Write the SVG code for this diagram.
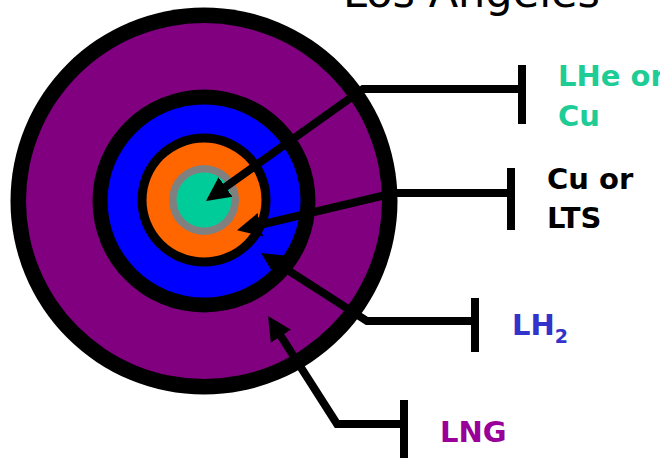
<svg xmlns="http://www.w3.org/2000/svg" width="660" height="458" viewBox="0 0 660 458">
  <style>
    .lbl { font-family: "DejaVu Sans", "Liberation Sans", sans-serif; font-weight: bold; font-size: 29px; }
    .title { font-family: "DejaVu Sans", "Liberation Sans", sans-serif; font-size: 42px; fill: #000; }
    .wire { fill: none; stroke: #000; stroke-width: 8; stroke-linejoin: miter; }
    .bar { stroke: #000; stroke-width: 8; }
  </style>
  <defs>
    <marker id="head" markerUnits="userSpaceOnUse" markerWidth="26" markerHeight="26"
            viewBox="0 -13 26 26" refX="1" refY="0" orient="auto">
      <path d="M0,-12 L24,0 L0,12 Z" fill="#000"/>
    </marker>
  </defs>

  <rect width="660" height="458" fill="#fff"/>

  <!-- title, running off the top edge -->
  <text class="title" x="343" y="7" textLength="257" lengthAdjust="spacingAndGlyphs">Los Angeles</text>

  <!-- concentric cable layers -->
  <g id="layer-lng">
    <circle cx="204" cy="201" r="193.5" fill="#000"/>
    <circle cx="204" cy="201" r="178" fill="#800080"/>
  </g>
  <g id="layer-lh2">
    <circle cx="204" cy="201" r="111.5" fill="#000"/>
    <circle cx="204" cy="201" r="96.5" fill="#0000FF"/>
  </g>
  <g id="layer-lts">
    <circle cx="204" cy="200" r="66.5" fill="#000"/>
    <circle cx="204" cy="200" r="57.5" fill="#FF6600"/>
  </g>
  <g id="layer-core">
    <circle cx="204" cy="200" r="35" fill="#808080"/>
    <circle cx="204" cy="200" r="27.5" fill="#00CC99"/>
  </g>

  <!-- leader lines -->
  <g id="connectors">
    <line class="bar" x1="522" y1="65" x2="522" y2="124"/>
    <path class="wire" d="M522,89 H363 L224.7,187.6" marker-end="url(#head)"/>

    <line class="bar" x1="511" y1="168" x2="511" y2="230"/>
    <path class="wire" d="M511,193 H394 L259.4,225" marker-end="url(#head)"/>

    <line class="bar" x1="475" y1="298" x2="475" y2="352"/>
    <path class="wire" d="M475,321 H367 L280.4,265.4" marker-end="url(#head)"/>

    <line class="bar" x1="404" y1="400" x2="404" y2="458"/>
    <path class="wire" d="M404,424 H337 L280.4,335.4" marker-end="url(#head)"/>
  </g>

  <!-- labels -->
  <g id="label-core">
    <text class="lbl" x="558" y="86" fill="#1ECC96">LHe or</text>
    <text class="lbl" x="558" y="126" fill="#1ECC96">Cu</text>
  </g>
  <g id="label-lts">
    <text class="lbl" x="547" y="189" fill="#000">Cu or</text>
    <text class="lbl" x="547" y="228" fill="#000">LTS</text>
  </g>
  <g id="label-lh2">
    <text class="lbl" x="512" y="335" fill="#3333CC">LH<tspan font-size="19" dy="8">2</tspan></text>
  </g>
  <g id="label-lng">
    <text class="lbl" x="440" y="442" fill="#990099">LNG</text>
  </g>
</svg>
